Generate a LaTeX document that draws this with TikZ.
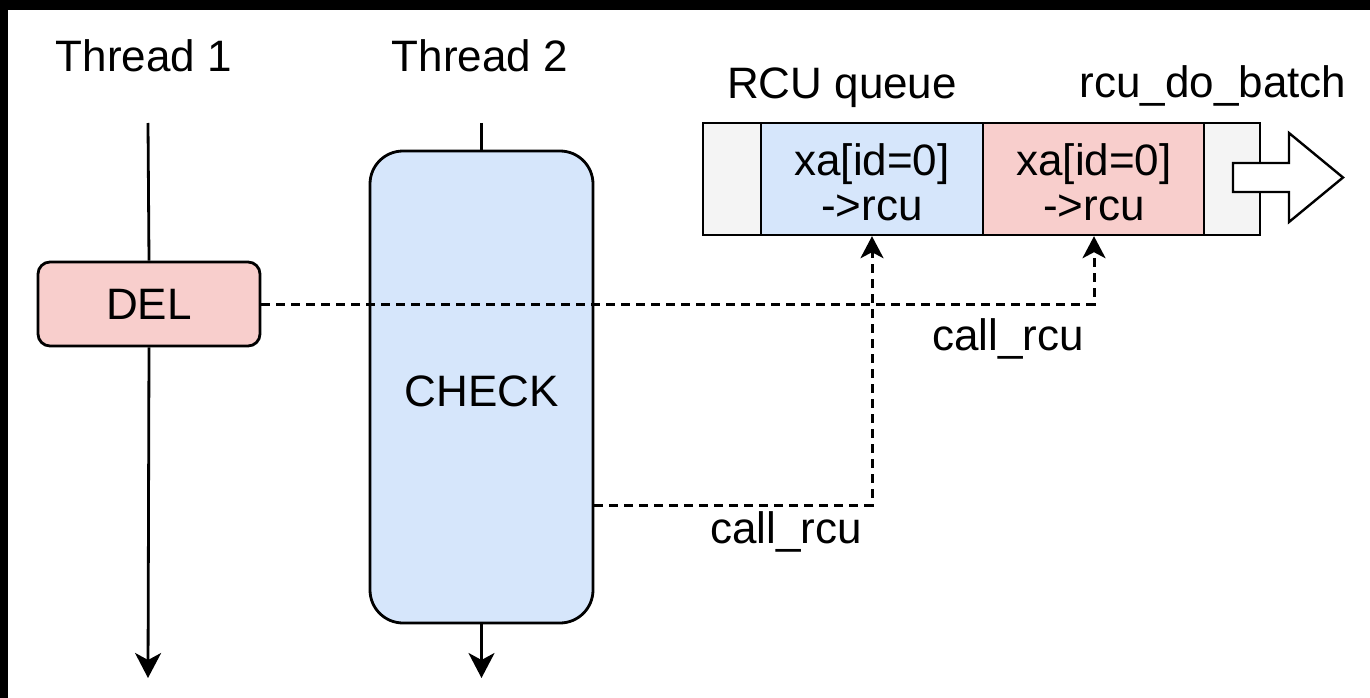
\documentclass[tikz,border=0pt]{standalone}
\usepackage{fontspec}
\setmainfont{Liberation Sans}
\usetikzlibrary{arrows.meta}

\definecolor{delfill}{HTML}{F8CECC}
\definecolor{chkfill}{HTML}{D6E6FB}
\definecolor{slotfill}{HTML}{F4F4F4}

\begin{document}
\begin{tikzpicture}[x=1pt,y=-1pt,
  txt/.style={font=\fontsize{44}{52}\selectfont, inner sep=0pt},
  lbl/.style={txt, anchor=base},
  box/.style={draw=black, line width=2.8pt, inner sep=0pt, txt},
  cell/.style={draw=black, line width=2.4pt, minimum height=112pt, inner sep=0pt},
  life/.style={line width=2.8pt},
  lifetip/.style={-{Stealth[length=25pt,width=26pt,inset=7pt]}},
  calltip/.style={-{Stealth[length=22pt,width=23pt,inset=6pt]}},
  call/.style={line width=3pt, dash pattern=on 9pt off 6pt},
]
% page and frame
\useasboundingbox (0,0) rectangle (1370,698);
\fill[white] (0,0) rectangle (1370,698);
\fill[black] (0,0) rectangle (1370,10);
\fill[black] (0,0) rectangle (8,698);

% headings
\node[lbl] (t1lbl) at (144,72) {Thread 1};
\node[lbl] (t2lbl) at (480,72) {Thread 2};
\node[lbl] (qlbl)  at (842,99) {RCU queue};
\node[lbl] (blbl)  at (1213,98) {rcu\_do\_batch};

% lifeline ends
\coordinate (t1top) at (148,123);
\coordinate (t1end) at (148,678);
\coordinate (t2top) at (481.5,123);
\coordinate (t2end) at (481.5,678);

% operations
\node[box, fill=delfill, rounded corners=12pt, minimum width=222pt, minimum height=84pt] (del) at (149,304) {DEL};
\node[box, fill=chkfill, rounded corners=33pt, minimum width=223pt, minimum height=472pt] (chk) at (481.5,387) {};
\node[lbl] (chktxt) at (481.5,406) {CHECK};

% lifelines
\draw[life] (t1top) -- (del.north);
\draw[life, lifetip] (del.south) -- (t1end);
\draw[life] (t2top) -- (chk.north);
\draw[life, lifetip] (chk.south) -- (t2end);

% RCU queue slots
\node[cell, fill=slotfill, minimum width=58pt]  (qa) at (732,179) {};
\node[cell, fill=chkfill,  minimum width=222pt] (qb) at (872,179) {};
\node[cell, fill=delfill,  minimum width=222pt] (qc) at (1094,179) {};
\node[cell, fill=slotfill, minimum width=56pt]  (qd) at (1232,179) {};
\node[lbl] (qb1) at (872,175) {xa[id=0]};
\node[lbl] (qb2) at (872,220) {->rcu};
\node[lbl] (qc1) at (1094,175) {xa[id=0]};
\node[lbl] (qc2) at (1094,220) {->rcu};

% batch output arrow
\draw[line width=2.4pt, fill=white, line join=miter]
  (1233,163) -- (1289,163) -- (1289,133) -- (1343,177.5) -- (1289,222)
  -- (1289,192) -- (1233,192) -- cycle;

% call_rcu connectors
\coordinate (lvl) at (0,505);
\draw[call, calltip] (del.east) -| (qc.south);
\draw[call, calltip] (chk.east |- lvl) -| (qb.south);
\node[lbl] (call1) at (1008,350) {call\_rcu};
\node[lbl] (call2) at (786,543) {call\_rcu};
\end{tikzpicture}
\end{document}
